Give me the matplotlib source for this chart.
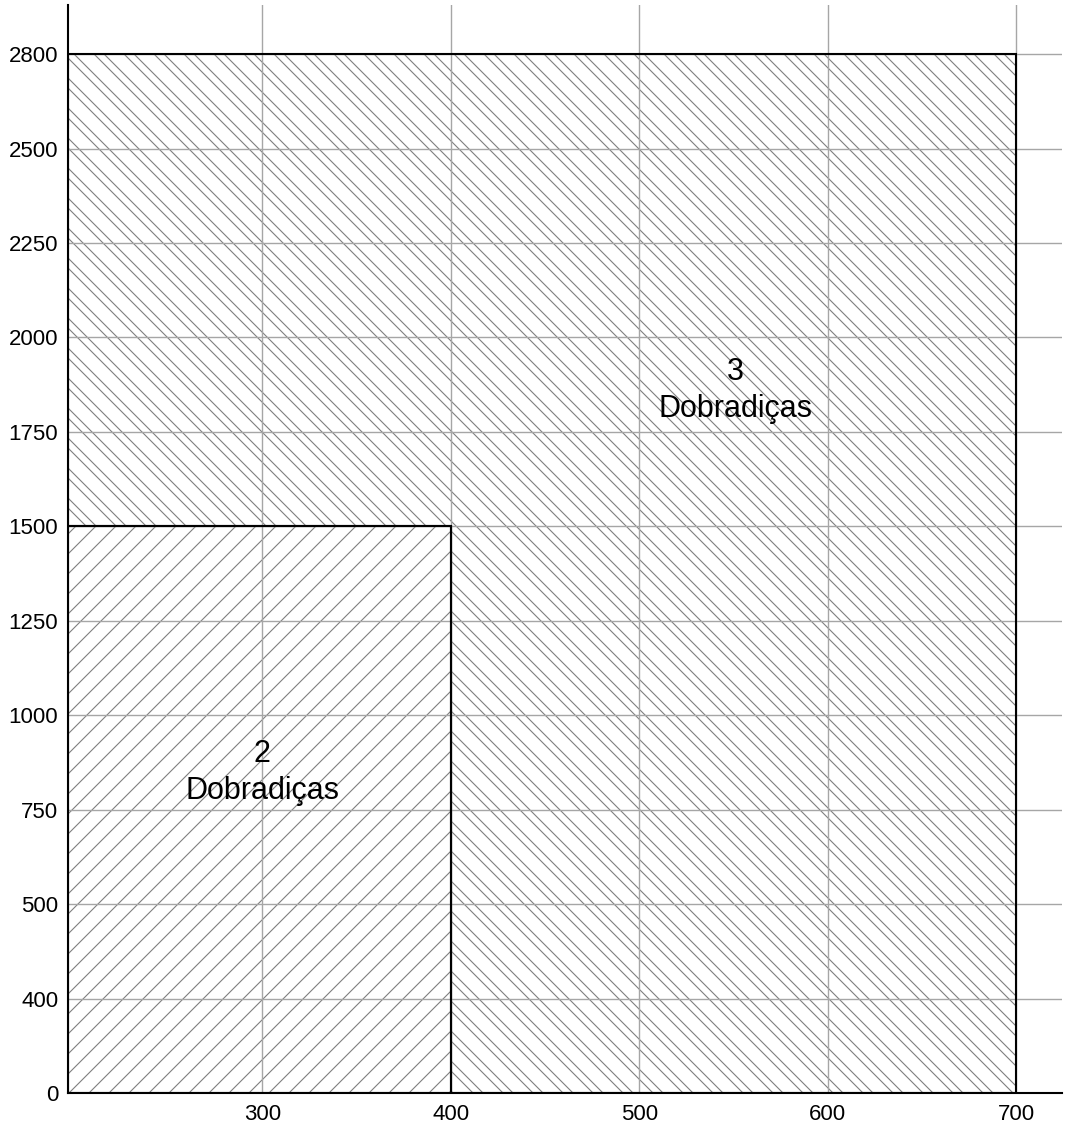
import numpy as np
import matplotlib
matplotlib.use("Agg")
import matplotlib.pyplot as plt
from matplotlib.patches import Polygon
from matplotlib.collections import LineCollection
from matplotlib.transforms import IdentityTransform

plt.rcParams['font.family'] = ['Liberation Sans', 'DejaVu Sans']

# Largura (mm) e altura (mm) — eixos com espaçamento não linear
largura_ticks = [300, 400, 500, 600, 700]
altura_ticks = [0, 400, 500, 750, 1000, 1250, 1500, 1750, 2000, 2250, 2500, 2800]

# Nós da escala e posição de cada um no eixo
x_nos = [200, 300, 400, 500, 600, 700, 800]
x_pos = [0, 1.03, 2.03, 3.03, 4.03, 5.03, 6.03]
y_nos = [0, 400, 500, 750, 1000, 1250, 1500, 1750, 2000, 2250, 2500, 2800, 3100]
y_pos = list(range(len(y_nos)))

# Zonas: 2 dobradiças (canto inferior esquerdo) e 3 dobradiças (restante)
zona2_x = [200, 400, 400, 200]
zona2_y = [0, 0, 1500, 1500]
zona3_x = [400, 700, 700, 200, 200, 400]
zona3_y = [0, 0, 2800, 2800, 1500, 1500]

rotulos = ["2\nDobradiças", "3\nDobradiças"]
rotulos_x = [300, 551]
rotulos_y = [848, 1860]

W, H = 1067, 1128


def escala(nos, pos):
    fwd = lambda v: np.interp(v, nos, pos)
    inv = lambda p: np.interp(p, pos, nos)
    return fwd, inv


def tracejado(ax, patch, offsets, sentido):
    # linhas diagonais em pixels, recortadas pela zona
    segs = []
    for c in offsets:
        if sentido > 0:   # "/"  x - y = c
            segs.append([(c, 0), (c + H, H)])
        else:             # "\"  x + y = c
            segs.append([(c, 0), (c - H, H)])
    lc = LineCollection(segs, colors='#7f7f7f', linewidths=0.8,
                        transform=IdentityTransform(), zorder=1.5)
    lc.set_clip_path(patch)
    ax.add_collection(lc, autolim=False)


fig = plt.figure(figsize=(W / 100, H / 100), dpi=100)
ax = fig.add_axes([0.0637, 0.031, 0.9313, 0.9646])
ax.set_xscale('function', functions=escala(x_nos, x_pos))
ax.set_yscale('function', functions=escala(y_nos, y_pos))
ax.set_xlim(200, 724)
ax.set_ylim(0, 2956)

zona2 = Polygon(np.column_stack([zona2_x, zona2_y]), closed=True,
                facecolor='white', edgecolor='none', zorder=1)
zona3 = Polygon(np.column_stack([zona3_x, zona3_y]), closed=True,
                facecolor='white', edgecolor='none', zorder=1)
ax.add_patch(zona2)
ax.add_patch(zona3)

tracejado(ax, zona2, np.arange(-H, W + 20, 20) + 2, +1)
pares = np.concatenate([np.arange(-2, W + H + 30, 30),
                        np.arange(8, W + H + 30, 30)])
tracejado(ax, zona3, pares, -1)

for xs, ys in [(zona2_x, zona2_y), (zona3_x, zona3_y)]:
    ax.add_patch(Polygon(np.column_stack([xs, ys]), closed=True,
                         facecolor='none', edgecolor='black',
                         linewidth=1.5, zorder=3))

for t, x, y in zip(rotulos, rotulos_x, rotulos_y):
    ax.text(x, y, t, ha='center', va='center', fontsize=22, zorder=4,
            linespacing=1.33)

ax.set_xticks(largura_ticks)
ax.set_yticks(altura_ticks)
ax.minorticks_off()
ax.tick_params(length=0, labelsize=16)
ax.tick_params(axis='y', pad=7)
ax.tick_params(axis='x', pad=8)

ax.set_axisbelow(False)
ax.grid(True, color='#a6a6a6', linewidth=1.0, zorder=2)

for s in ['top', 'right']:
    ax.spines[s].set_visible(False)
for s in ['left', 'bottom']:
    ax.spines[s].set_linewidth(1.5)
    ax.spines[s].set_zorder(5)

fig.savefig("out.png", dpi=100)
